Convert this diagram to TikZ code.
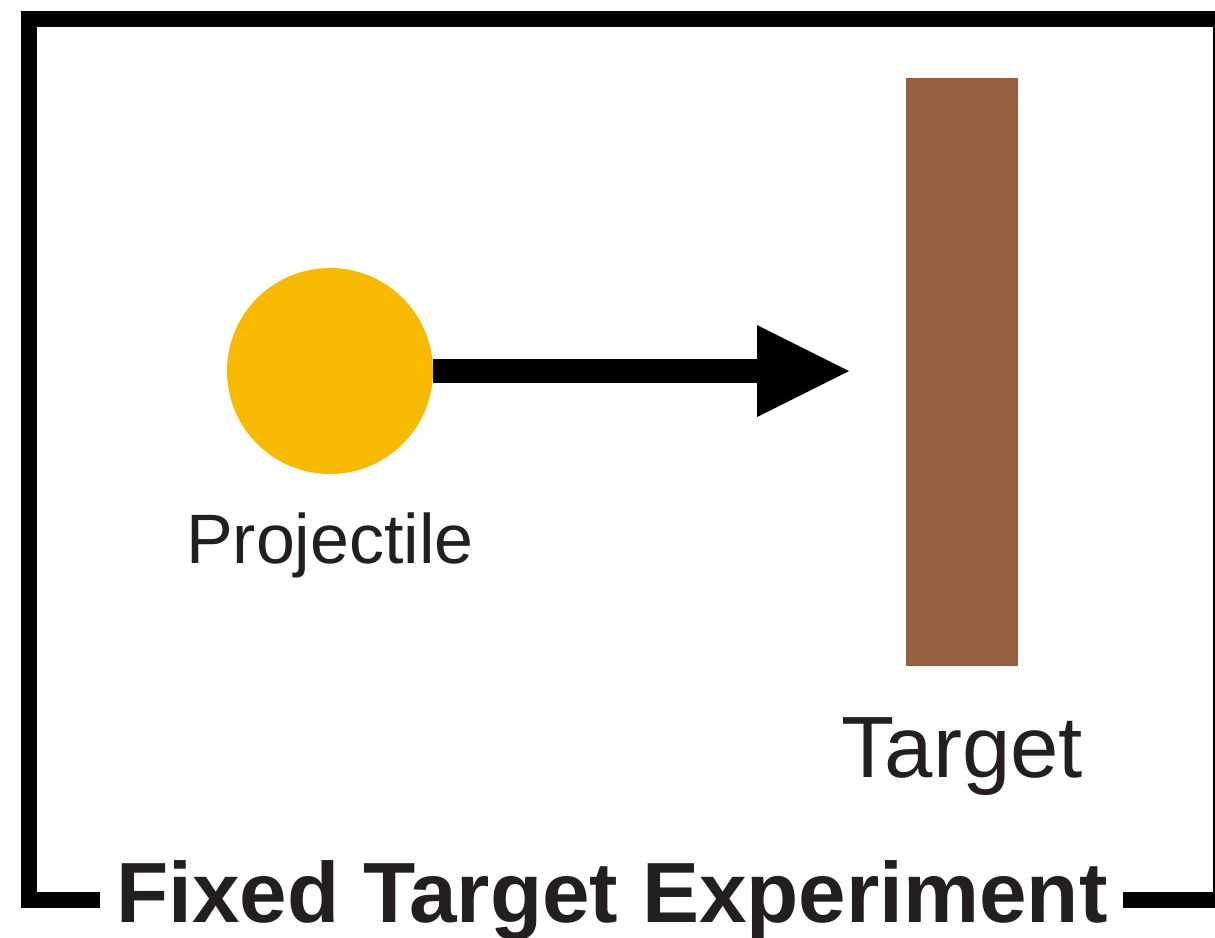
\documentclass[tikz,border=0pt]{standalone}
\usepackage{fontspec}
\setmainfont{Liberation Sans}
\usetikzlibrary{arrows.meta}
\definecolor{projyellow}{HTML}{F7BA00}
\definecolor{targetbrown}{HTML}{955F40}
\definecolor{textdark}{HTML}{231F20}
\tikzset{
  framestyle/.style={line width=16pt, draw=black, line join=miter},
  labeltext/.style={text=textdark, inner sep=0pt, anchor=base},
}
\begin{document}
\begin{tikzpicture}[x=1pt, y=-1pt]
\useasboundingbox (0,0) rectangle (1215,937);
% frame
\coordinate (fl) at (100,900);
\coordinate (fbl) at (29,900);
\coordinate (ftl) at (29,19);
\coordinate (ftr) at (1221,19);
\coordinate (fbr) at (1221,900);
\coordinate (fr) at (1123,900);
\draw[framestyle] (fl) -- (fbl) -- (ftl) -- (ftr) -- (fbr) -- (fr);
% title
\node[labeltext, font=\fontsize{85.5}{100}\selectfont\bfseries] (title) at (612,922) {Fixed Target Experiment};
% projectile
\node[circle, fill=projyellow, minimum size=206pt, inner sep=0pt] (proj) at (330,371) {};
\node[labeltext, font=\fontsize{70}{84}\selectfont] (projlabel) at (330,563) {Projectile};
% target
\node[rectangle, fill=targetbrown, minimum width=112pt, minimum height=588pt, inner sep=0pt] (target) at (962,372) {};
\node[labeltext, font=\fontsize{87}{104}\selectfont] (targetlabel) at (962,777) {Target};
% arrow
\coordinate (tip) at (849,371);
\draw[line width=24pt, -{Triangle[length=92pt,width=92pt,line width=0pt]}] (proj.east) -- (tip);
\end{tikzpicture}
\end{document}
